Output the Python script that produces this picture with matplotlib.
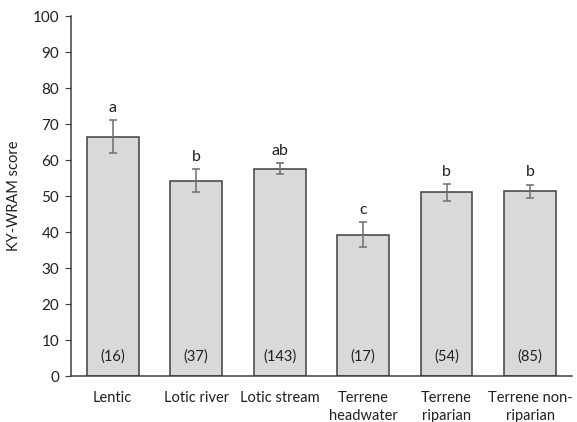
import matplotlib
matplotlib.use('Agg')
from matplotlib import pyplot as plt

categories = ['Lentic', 'Lotic river', 'Lotic stream', 'Terrene\nheadwater',
              'Terrene\nriparian', 'Terrene non-\nriparian']
scores = [66.5, 54.3, 57.6, 39.3, 51.0, 51.3]
errors = [4.5, 3.3, 1.6, 3.5, 2.4, 1.9]
letters = ['a', 'b', 'ab', 'c', 'b', 'b']
counts = ['(16)', '(37)', '(143)', '(17)', '(54)', '(85)']

plt.rcParams['font.family'] = ['Lato', 'DejaVu Sans']
txt = '#202020'

fig = plt.figure(figsize=(5.77, 4.22), dpi=100)
ax = fig.add_axes([0.123, 0.109, 0.868, 0.853])

x = list(range(len(categories)))
ax.bar(x, scores, width=0.62, color='#d9d9d9', edgecolor='#404040', linewidth=1.1, zorder=2)
ax.errorbar(x, scores, yerr=errors, fmt='none', ecolor='#6e6e6e', elinewidth=1.1,
            capsize=3, capthick=1.1, zorder=3)

for xi, s, e, lab, n in zip(x, scores, errors, letters, counts):
    ax.text(xi, s + e + 1.4, lab, ha='center', va='bottom', fontsize=11.5, color=txt)
    ax.text(xi, 5.4, n, ha='center', va='center', fontsize=10.5, color=txt)

ax.set_xlim(-0.5, len(categories) - 0.5)
ax.set_ylim(0, 100)
ax.set_yticks(range(0, 101, 10))
ax.set_xticks(x)
ax.set_xticklabels(categories, fontsize=10.5, color=txt, linespacing=1.35)
ax.tick_params(axis='x', length=0, pad=11)
ax.tick_params(axis='y', direction='out', length=4.5, color='#404040', labelsize=11,
               labelcolor=txt, pad=4)
ax.set_ylabel('KY-WRAM score', fontsize=10.5, color=txt, labelpad=8)

for side in ['top', 'right']:
    ax.spines[side].set_visible(False)
for side in ['left', 'bottom']:
    ax.spines[side].set_color('#404040')
    ax.spines[side].set_linewidth(1.1)

fig.savefig('out.png', dpi=100)
